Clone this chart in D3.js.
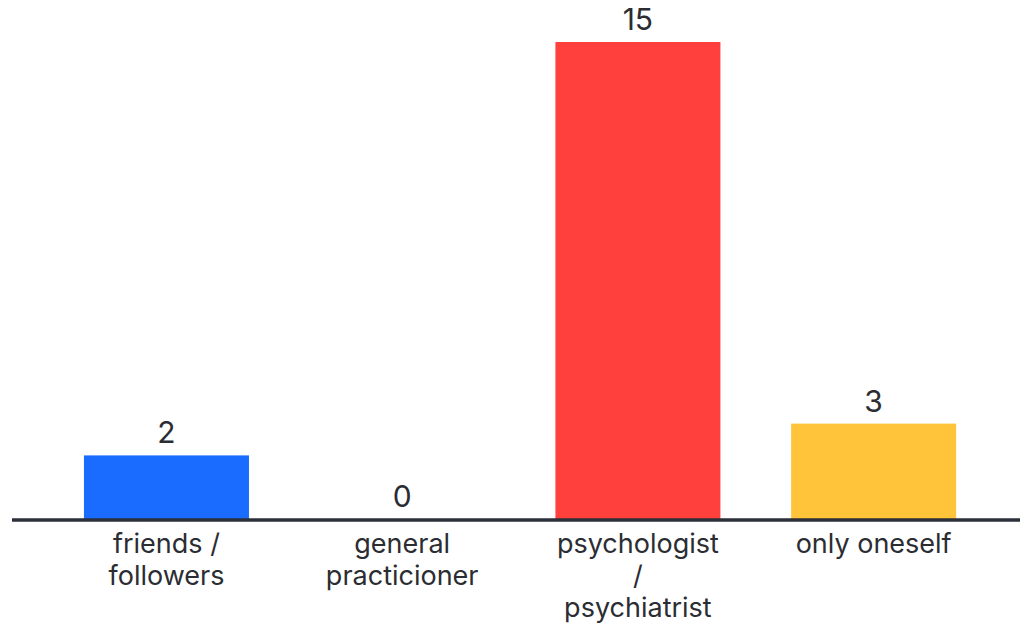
<!DOCTYPE html>
<html>
<head>
<meta charset="utf-8">
<script src="https://cdn.jsdelivr.net/npm/d3@7"></script>
<style>
  html, body { margin: 0; padding: 0; background: #fff; }
  svg { display: block; }
  text { font-family: Inter, "Noto Sans", sans-serif; fill: #2b2d33; }
</style>
</head>
<body>
<svg id="chart" width="1020" height="625"></svg>
<script>
const categories = ["friends / followers", "general practicioner", "psychologist / psychiatrist", "only oneself"];
const categoryLines = [["friends /", "followers"], ["general", "practicioner"], ["psychologist", "/", "psychiatrist"], ["only oneself"]];
const values = [2, 0, 15, 3];
const barColors = ["#1a6bff", "#1a6bff", "#ff403d", "#ffc43a"];

const svg = d3.select("#chart");
const baseY = 519;

const x = d3.scaleBand()
  .domain(categories)
  .range([48.6, 991.5])
  .paddingInner(0.3)
  .paddingOuter(0.15);

const y = d3.scaleLinear()
  .domain([0, 15])
  .range([baseY, 42]);

svg.selectAll("rect.bar")
  .data(categories)
  .join("rect")
  .attr("class", "bar")
  .attr("x", d => x(d))
  .attr("width", x.bandwidth())
  .attr("y", (d, i) => y(values[i]))
  .attr("height", (d, i) => baseY - y(values[i]))
  .attr("fill", (d, i) => barColors[i]);

svg.selectAll("text.val")
  .data(categories)
  .join("text")
  .attr("class", "val")
  .attr("x", d => x(d) + x.bandwidth() / 2)
  .attr("y", (d, i) => y(values[i]) - 12)
  .attr("text-anchor", "middle")
  .style("font-size", "30px")
  .text((d, i) => values[i]);

svg.append("line")
  .attr("x1", 12).attr("x2", 1020)
  .attr("y1", 520).attr("y2", 520)
  .attr("stroke", "#2a2f3a")
  .attr("stroke-width", 3.5);

const lab = svg.selectAll("text.lab")
  .data(categories)
  .join("text")
  .attr("class", "lab")
  .attr("text-anchor", "middle")
  .style("font-size", "27px");

lab.each(function(d, i) {
  const t = d3.select(this);
  categoryLines[i].forEach((ln, k) => {
    t.append("tspan")
      .attr("x", x(d) + x.bandwidth() / 2)
      .attr("y", 553 + k * 32)
      .text(ln);
  });
});
</script>
</body>
</html>
